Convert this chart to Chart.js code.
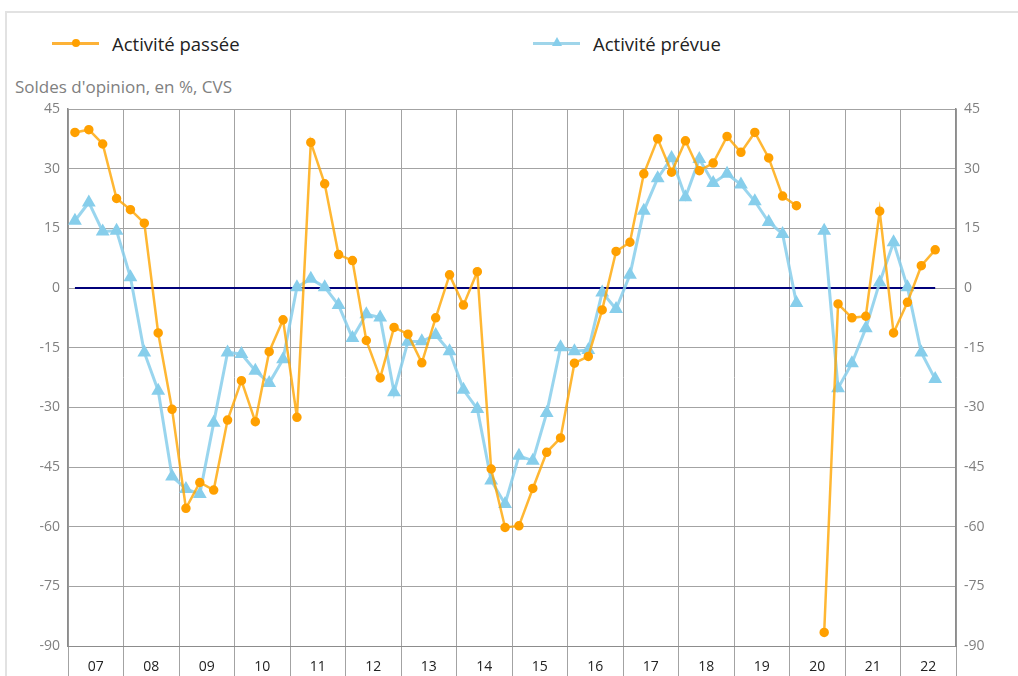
<!DOCTYPE html>
<html lang="fr">
<head>
<meta charset="utf-8">
<script src="https://cdn.jsdelivr.net/npm/chart.js@4.4.1/dist/chart.umd.min.js"></script>
<style>
  body { margin: 0; width: 1018px; height: 676px; overflow: hidden; background: #fff; font-family: 'Open Sans', sans-serif; position: relative; }
  .frame { position: absolute; left: 5px; top: 11px; width: 2000px; height: 2000px; border-top: 2px solid #e2e2e2; border-left: 2px solid #e2e2e2; }
  .leg { position: absolute; top: 31px; height: 24px; display: flex; align-items: center; font-size: 18.5px; color: #222; }
  .leg .ln { position: relative; width: 47px; height: 3px; margin-right: 13px; }
  .leg .dot { position: absolute; left: 20px; top: -3px; width: 8px; height: 8px; border-radius: 50%; background: #ffa000; }
  .leg .tri { position: absolute; left: 19px; top: -5px; width: 0; height: 0; border-left: 5px solid transparent; border-right: 5px solid transparent; border-bottom: 9px solid #87ceeb; }
  .unit { position: absolute; left: 15px; top: 75px; font-size: 17px; color: #808080; }
  #wrap { position: absolute; left: 0; top: 0; width: 1018px; height: 700px; }
</style>
</head>
<body>
<div class="frame"></div>
<div class="leg" style="left:52px"><span class="ln" style="background:#fdb237"><span class="dot"></span></span>Activité passée</div>
<div class="leg" style="left:533px"><span class="ln" style="background:#9fd5ea"><span class="tri"></span></span>Activité prévue</div>
<div class="unit">Soldes d'opinion, en %, CVS</div>
<div id="wrap"><canvas id="chart"></canvas></div>
<script>
// années (libellés de l'axe horizontal), données trimestrielles 2007T1 - 2022T3
const years = ["07", "08", "09", "10", "11", "12", "13", "14", "15", "16", "17", "18", "19", "20", "21", "22"];
const passee = [
  39.1, 39.8, 36.2, 22.5, 19.7, 16.3, -11.3, -30.5, -55.4, -48.9,
  -50.8, -33.2, -23.3, -33.6, -16.0, -8.0, -32.5, 36.6, 26.2, 8.4,
  6.9, -13.2, -22.6, -9.9, -11.6, -18.8, -7.5, 3.3, -4.3, 4.1,
  -45.5, -60.2, -59.8, -50.4, -41.3, -37.7, -18.9, -17.2, -5.5, 9.2,
  11.5, 28.7, 37.5, 29.1, 37.0, 29.5, 31.4, 38.1, 34.1, 39.1,
  32.7, 23.1, 20.7, null, -86.6, -4.0, -7.5, -7.1, 19.3, -11.3,
  -3.6, 5.6, 9.6
];
const prevue = [
  16.9, 21.5, 14.2, 14.4, 2.7, -16.2, -25.8, -47.4, -50.5, -51.8,
  -33.9, -16.2, -16.6, -20.8, -23.9, -17.9, 0.2, 2.3, 0.2, -4.3,
  -12.6, -6.6, -7.4, -26.2, -13.5, -13.4, -11.8, -15.9, -25.6, -30.4,
  -48.4, -54.3, -42.2, -43.4, -31.4, -14.9, -15.9, -15.6, -1.1, -5.3,
  3.3, 19.4, 27.6, 32.7, 22.8, 32.4, 26.4, 28.7, 26.0, 21.8,
  16.6, 13.6, -3.8, null, 14.4, -25.2, -18.9, -10.1, 1.4, 11.5,
  0.2, -16.2, -22.9
];
const yMin = -90, yMax = 45, yStep = 15;

// un point au milieu de chaque trimestre
const toXY = (arr) => arr.map((v, i) => ({ x: i + 0.5, y: v }));
const nbQuarters = years.length * 4;

Chart.defaults.font.family = "'Open Sans', sans-serif";

const yAxis = (pos) => ({
  position: pos,
  min: yMin,
  max: yMax,
  ticks: { stepSize: yStep, color: "#808080", font: { size: 14 }, padding: 8 },
  grid: { display: pos === "left", color: "#a3a3a3", drawTicks: false },
  border: { display: true, color: "#8c8c8c", width: 1.5 },
  afterFit: (s) => { s.width = pos === "left" ? 68 : 62; },
});

new Chart(document.getElementById("chart"), {
  type: "line",
  data: {
    datasets: [
      {
        label: "Activité passée",
        data: toXY(passee),
        borderColor: "rgba(255,165,0,0.8)",
        backgroundColor: "#ffa000",
        pointBackgroundColor: "#ffa000",
        pointBorderColor: "#ffa000",
        borderWidth: 2.5,
        pointRadius: 3.5,
        pointStyle: "circle",
        order: 1,
      },
      {
        label: "Activité prévue",
        data: toXY(prevue),
        borderColor: "rgba(135,206,235,0.85)",
        backgroundColor: "#87ceeb",
        pointBackgroundColor: "#87ceeb",
        pointBorderColor: "#87ceeb",
        borderWidth: 3,
        pointRadius: 5,
        pointStyle: "triangle",
        order: 2,
      },
      {
        label: "zero",
        data: [{ x: 0.5, y: 0 }, { x: passee.length - 0.5, y: 0 }],
        borderColor: "#00007a",
        borderWidth: 2,
        pointRadius: 0,
        order: 3,
      },
    ],
  },
  options: {
    responsive: true,
    maintainAspectRatio: false,
    animation: false,
    spanGaps: false,
    layout: { padding: { top: 109, left: 0, right: 0, bottom: 0 } },
    plugins: { legend: { display: false }, tooltip: { enabled: false } },
    scales: {
      x: {
        type: "linear",
        min: 0,
        max: nbQuarters,
        afterBuildTicks: (s) => {
          const t = [];
          for (let v = 0; v <= nbQuarters; v += 2) t.push({ value: v });
          s.ticks = t;
        },
        ticks: {
          autoSkip: false,
          maxRotation: 0,
          color: "#222",
          font: { size: 14 },
          padding: -27,
          callback: (v) => (v % 4 === 2 ? years[(v - 2) / 4] : ""),
        },
        grid: {
          color: (ctx) => (ctx.tick && ctx.tick.value % 4 === 0 ? "#a3a3a3" : "rgba(0,0,0,0)"),
          tickLength: 40,
        },
        border: { display: true, color: "#8c8c8c" },
        afterFit: (s) => { s.height = 54; },
      },
      y: yAxis("left"),
      y2: yAxis("right"),
    },
  },
});
</script>
</body>
</html>
